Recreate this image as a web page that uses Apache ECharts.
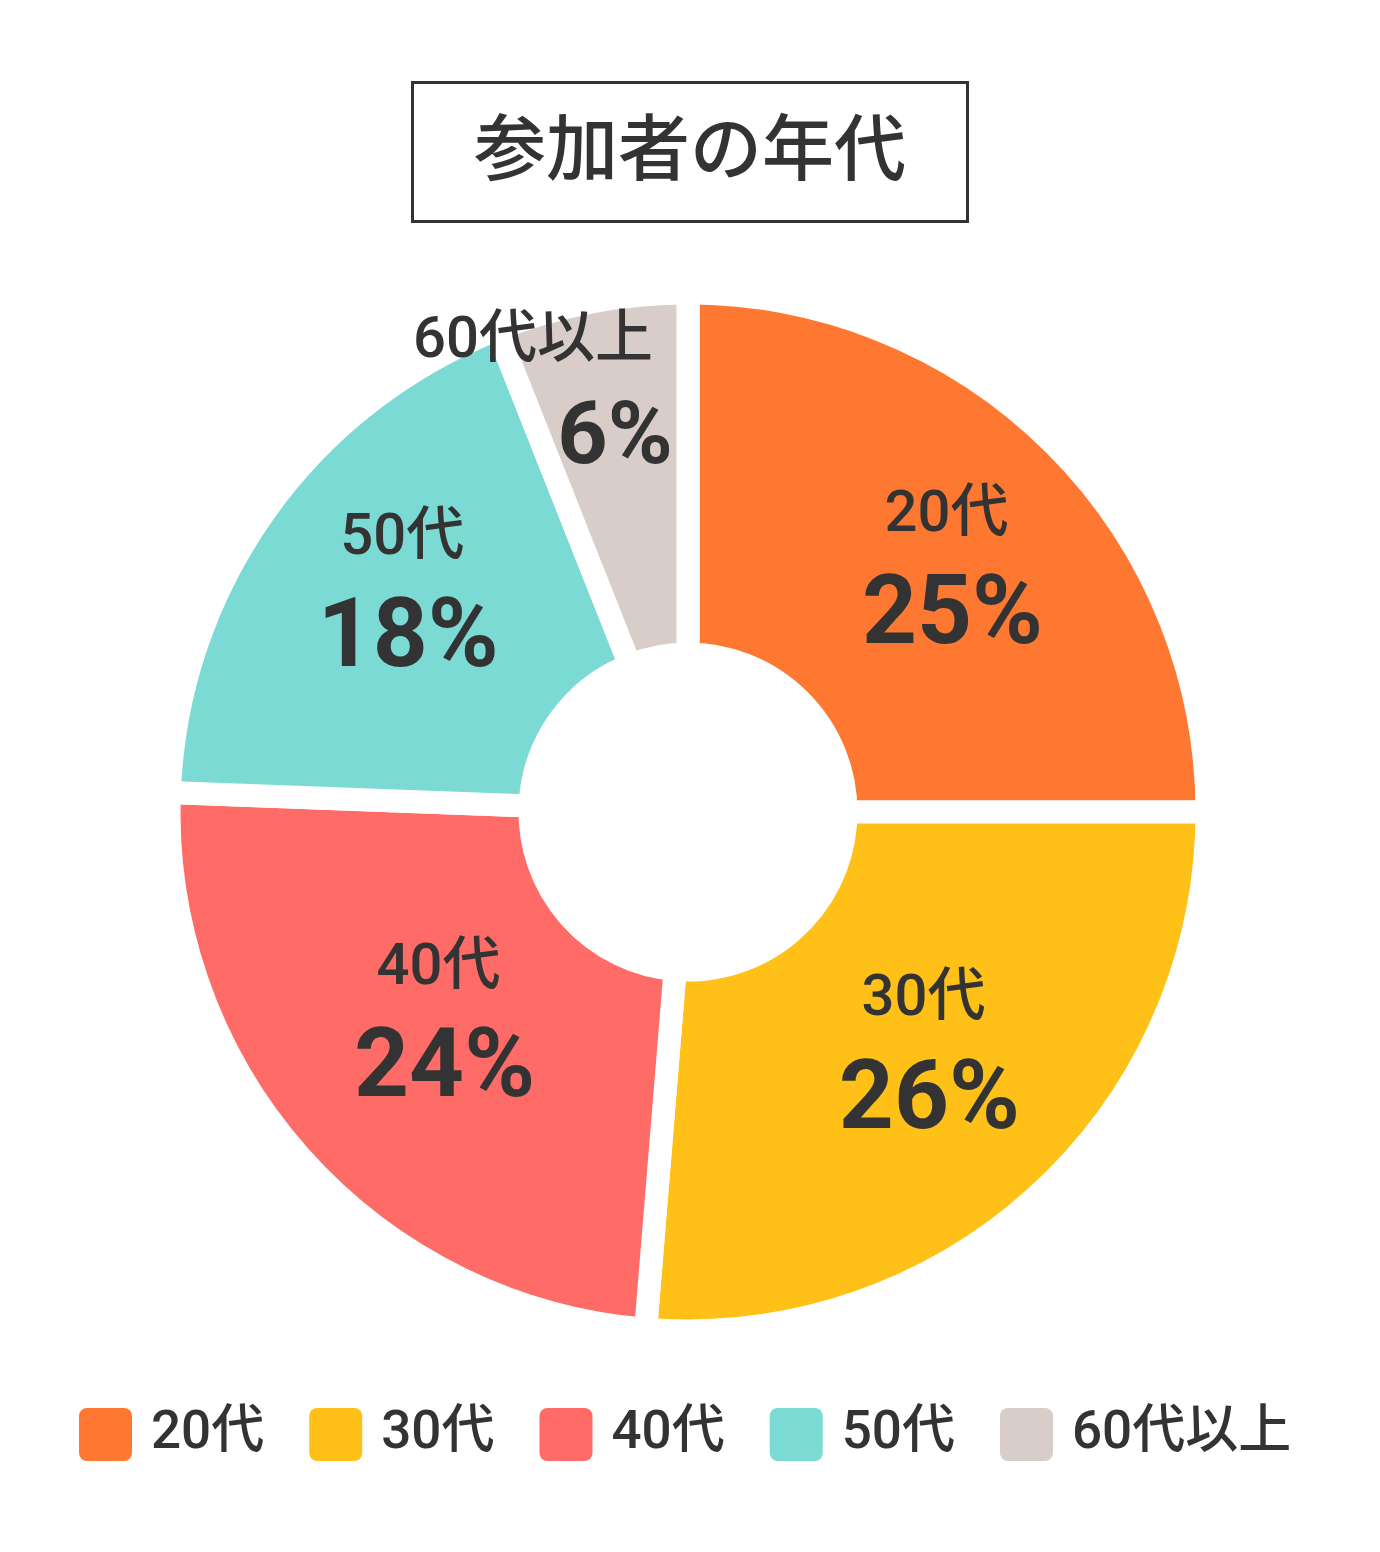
<!DOCTYPE html>
<html>
<head>
<meta charset="utf-8">
<script src="https://cdn.jsdelivr.net/npm/echarts@6/dist/echarts.min.js"></script>
<style>
html,body{margin:0;padding:0;background:#fff;}
#chart{width:1380px;height:1552px;}
</style>
</head>
<body>
<div id="chart"></div>
<script>
const titleText = '参加者の年代';
const categories = ['20代', '30代', '40代', '50代', '60代以上'];
// slice sizes; labels show them rounded
const values = [25, 26.3, 24.3, 18.4, 6];
const colors = ['#FF7832', '#FFC117', '#FF6B66', '#7BDAD4', '#D8CDC8'];
// label offsets (layout only)
const labelOffsets = [[17, 8], [4, 0], [6, -7], [-7, -13], [-91, -76]];

const FONT = 'Roboto, "Noto Sans CJK JP", sans-serif';

const seriesData = categories.map((name, i) => {
  const item = {
    name: name,
    value: values[i],
    itemStyle: { color: colors[i] },
    label: { offset: labelOffsets[i] }
  };
  if (i === 4) {
    item.label.formatter = p => '{n|' + p.name + '}\n{q|' + Math.round(p.value) + '%}';
  }
  return item;
});

const chart = echarts.init(document.getElementById('chart'), null, { renderer: 'canvas' });
chart.setOption({
  backgroundColor: '#ffffff',
  animation: false,
  title: {
    text: titleText,
    left: 'center',
    top: 82,
    padding: [36, 62, 29, 62],
    borderColor: '#333333',
    borderWidth: 3,
    textStyle: {
      fontFamily: FONT,
      fontSize: 72,
      fontWeight: 500,
      color: '#333333',
      lineHeight: 75
    }
  },
  legend: {
    data: categories,
    left: 74,
    top: 1403,
    itemWidth: 53,
    itemHeight: 53,
    itemGap: 45,
    icon: 'path://M8,0H45A8,8,0,0,1,53,8V45A8,8,0,0,1,45,53H8A8,8,0,0,1,0,45V8A8,8,0,0,1,8,0Z',
    itemStyle: { borderWidth: 0 },
    selectedMode: false,
    textStyle: {
      fontFamily: FONT,
      fontSize: 53,
      fontWeight: 500,
      color: '#333333',
      padding: [0, 0, 0, 14]
    }
  },
  series: [{
    type: 'pie',
    center: [688, 812],
    radius: [158, 519],
    startAngle: 90,
    clockwise: true,
    avoidLabelOverlap: false,
    silent: true,
    itemStyle: { borderColor: '#ffffff', borderWidth: 23 },
    labelLine: { show: false },
    label: {
      show: true,
      position: 'inside',
      formatter: p => '{n|' + p.name + '}\n{p|' + Math.round(p.value) + '%}',
      color: '#333333',
      rich: {
        n: { fontFamily: FONT, fontSize: 58, fontWeight: 500, color: '#333333', lineHeight: 81 },
        p: { fontFamily: FONT, fontSize: 96, fontWeight: 'bold', color: '#333333', lineHeight: 125, padding: [0, 0, 0, 12] },
        q: { fontFamily: FONT, fontSize: 88, fontWeight: 'bold', color: '#333333', lineHeight: 117, padding: [0, 0, 0, 164] }
      }
    },
    data: seriesData
  }]
});
</script>
</body>
</html>
